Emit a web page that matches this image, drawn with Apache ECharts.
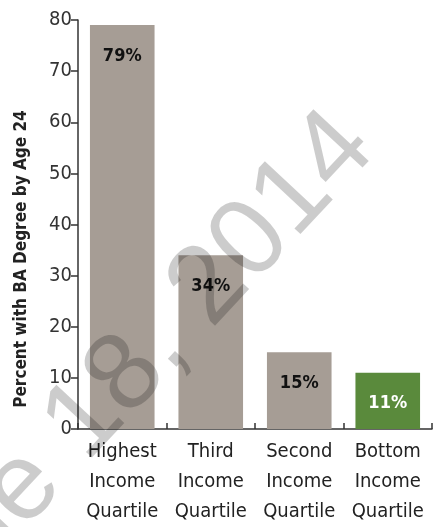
<!DOCTYPE html>
<html>
<head>
<meta charset="utf-8">
<script src="https://cdn.jsdelivr.net/npm/echarts@6/dist/echarts.min.js"></script>
<style>
html,body{margin:0;padding:0;background:#fff;}
#c{width:437px;height:527px;}
</style>
</head>
<body>
<div id="c"></div>
<script>
var categories = ['Highest\nIncome\nQuartile', 'Third\nIncome\nQuartile', 'Second\nIncome\nQuartile', 'Bottom\nIncome\nQuartile'];
var values = [79, 34, 15, 11];
var barColors = ['#a69d95', '#a69d95', '#a69d95', '#5a8a3c'];
var labelColors = ['#111', '#111', '#111', '#fff'];
var yTicks = [0, 10, 20, 30, 40, 50, 60, 70, 80];
var yTitle = 'Percent with BA Degree by Age 24';
var watermark = 'June 18, 2014';

var FONT = '"DejaVu Sans Condensed", "Roboto", sans-serif';
var chart = echarts.init(document.getElementById('c'));
chart.setOption({
  animation: false,
  backgroundColor: '#fff',
  grid: {left: 78, right: 5, top: 20, bottom: 89, containLabel: false},
  xAxis: {
    type: 'category',
    data: categories,
    axisLine: {lineStyle: {color: '#333', width: 1.5}},
    axisTick: {show: true, inside: true, length: 6, lineStyle: {color: '#333', width: 1.5}},
    axisLabel: {color: '#222', fontSize: 20, fontFamily: FONT, lineHeight: 30, margin: 8, interval: 0}
  },
  yAxis: {
    type: 'value',
    min: yTicks[0], max: yTicks[yTicks.length - 1], interval: 10,
    splitLine: {show: false},
    axisLine: {show: true, lineStyle: {color: '#333', width: 1.5}},
    axisTick: {show: true, length: 7, lineStyle: {color: '#333', width: 1.5}},
    axisLabel: {color: '#333', fontSize: 20, fontFamily: FONT, margin: 6}
  },
  series: [{
    type: 'bar',
    barWidth: '73%',
    data: values.map(function (v, i) {
      return {value: v, itemStyle: {color: barColors[i]},
        label: {color: labelColors[i]}};
    }),
    label: {
      show: true, position: 'insideTop', distance: 22,
      formatter: '{c}%', fontSize: 18, fontWeight: 'bold', fontFamily: FONT
    }
  }],
  graphic: [
    {
      type: 'text', x: 22, y: 259, rotation: Math.PI / 2,
      style: {text: yTitle, fontSize: 17, fontWeight: 'bold', fontFamily: FONT,
        fill: '#222', textAlign: 'center', textVerticalAlign: 'middle'}
    },
    {
      type: 'text', x: 356, y: 130, rotation: 47 * Math.PI / 180, z: 100,
      style: {text: watermark, fontSize: 110, fontFamily: '"Liberation Sans", Arial, sans-serif',
        fill: 'rgba(0,0,0,0.2)', textAlign: 'right', textVerticalAlign: 'middle'}
    }
  ]
});
</script>
</body>
</html>
